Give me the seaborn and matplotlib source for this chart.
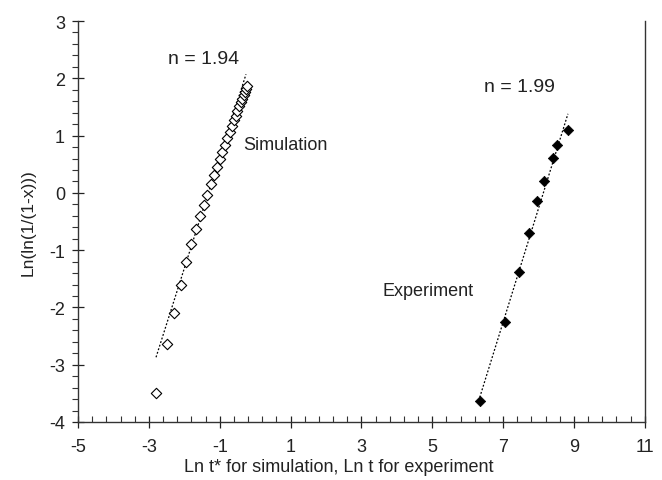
import numpy as np
import pandas as pd
import matplotlib
matplotlib.use("Agg")
import matplotlib.pyplot as plt
import seaborn as sns

# datos
sim_x = [-2.80, -2.50, -2.28, -2.09, -1.95, -1.82, -1.67, -1.55, -1.45, -1.35,
         -1.25, -1.16, -1.08, -1.00, -0.93, -0.86, -0.79, -0.72, -0.66, -0.60,
         -0.55, -0.50, -0.45, -0.40, -0.36, -0.32, -0.28, -0.25, -0.22]
sim_y = [-3.49, -2.64, -2.09, -1.61, -1.21, -0.89, -0.63, -0.40, -0.22, -0.03,
         0.15, 0.32, 0.46, 0.60, 0.72, 0.84, 0.96, 1.07, 1.17, 1.27,
         1.35, 1.43, 1.51, 1.58, 1.64, 1.70, 1.76, 1.81, 1.86]

exp_x = [6.34, 7.05, 7.44, 7.72, 7.95, 8.15, 8.42, 8.51, 8.83]
exp_y = [-3.63, -2.25, -1.39, -0.70, -0.14, 0.21, 0.61, 0.83, 1.10]

# rectas de ajuste (extremos)
sim_fit_x = [-2.80, -0.26]
sim_fit_y = [-2.87, 2.07]
exp_fit_x = [6.34, 8.83]
exp_fit_y = [-3.57, 1.38]

x_ticks = [-5, -3, -1, 1, 3, 5, 7, 9, 11]
y_ticks = [-4, -3, -2, -1, 0, 1, 2, 3]

sns.set_style("white")
plt.rcParams['font.family'] = ['Liberation Sans', 'DejaVu Sans']
plt.rcParams['axes.unicode_minus'] = False

fig = plt.figure(figsize=(6.62, 4.81), dpi=100)
ax = fig.add_axes([0.118, 0.1206, 0.856, 0.8336])

sim = pd.DataFrame({'x': sim_x, 'y': sim_y})
exp = pd.DataFrame({'x': exp_x, 'y': exp_y})

sns.lineplot(x=sim_fit_x, y=sim_fit_y, ax=ax, color='black', linestyle=(0, (1.5, 1.5)), linewidth=0.9)
sns.lineplot(x=exp_fit_x, y=exp_fit_y, ax=ax, color='black', linestyle=(0, (1.5, 1.5)), linewidth=0.9)
sns.scatterplot(data=sim, x='x', y='y', ax=ax, marker='D', s=28, facecolor='white',
                edgecolor='black', linewidth=0.8, zorder=3)
sns.scatterplot(data=exp, x='x', y='y', ax=ax, marker='D', s=28, color='black',
                edgecolor='black', linewidth=0.5, zorder=3)

ax.set_xlim(-5, 11)
ax.set_ylim(-4, 3)
ax.set_xticks(x_ticks)
ax.set_yticks(y_ticks)
ax.set_xticks(np.arange(-5, 11.01, 0.4), minor=True)
ax.set_yticks(np.arange(-4, 3.01, 0.2), minor=True)

ax.tick_params(axis='both', which='major', direction='inout', length=9, width=0.9,
               labelsize=13, colors='#222222', bottom=True, left=True)
ax.tick_params(axis='x', which='minor', direction='in', length=4, width=0.8, bottom=True, color='#333333')
ax.tick_params(axis='y', which='minor', direction='out', length=4, width=0.8, left=True, color='#333333')
ax.tick_params(axis='x', which='major', pad=7)
ax.tick_params(axis='y', which='major', pad=5)

for side in ['left', 'bottom', 'right']:
    ax.spines[side].set_color('#333333')
    ax.spines[side].set_linewidth(1.0)
ax.spines['top'].set_visible(False)

ax.set_xlabel('Ln t* for simulation, Ln t for experiment', fontsize=13, color='#222222')
ax.set_ylabel('Ln(ln(1/(1-x)))', fontsize=12.5, color='#222222')
ax.xaxis.set_label_coords(0.46, -0.09)
ax.yaxis.set_label_coords(-0.075, 0.5)

ax.text(-1.47, 2.34, 'n = 1.94', fontsize=14, ha='center', va='center', color='#222222')
ax.text(7.47, 1.85, 'n = 1.99', fontsize=14, ha='center', va='center', color='#222222')
ax.text(-0.35, 0.85, 'Simulation', fontsize=13, ha='left', va='center', color='#222222')
ax.text(3.60, -1.71, 'Experiment', fontsize=13, ha='left', va='center', color='#222222')

fig.savefig('out.png', dpi=100)
